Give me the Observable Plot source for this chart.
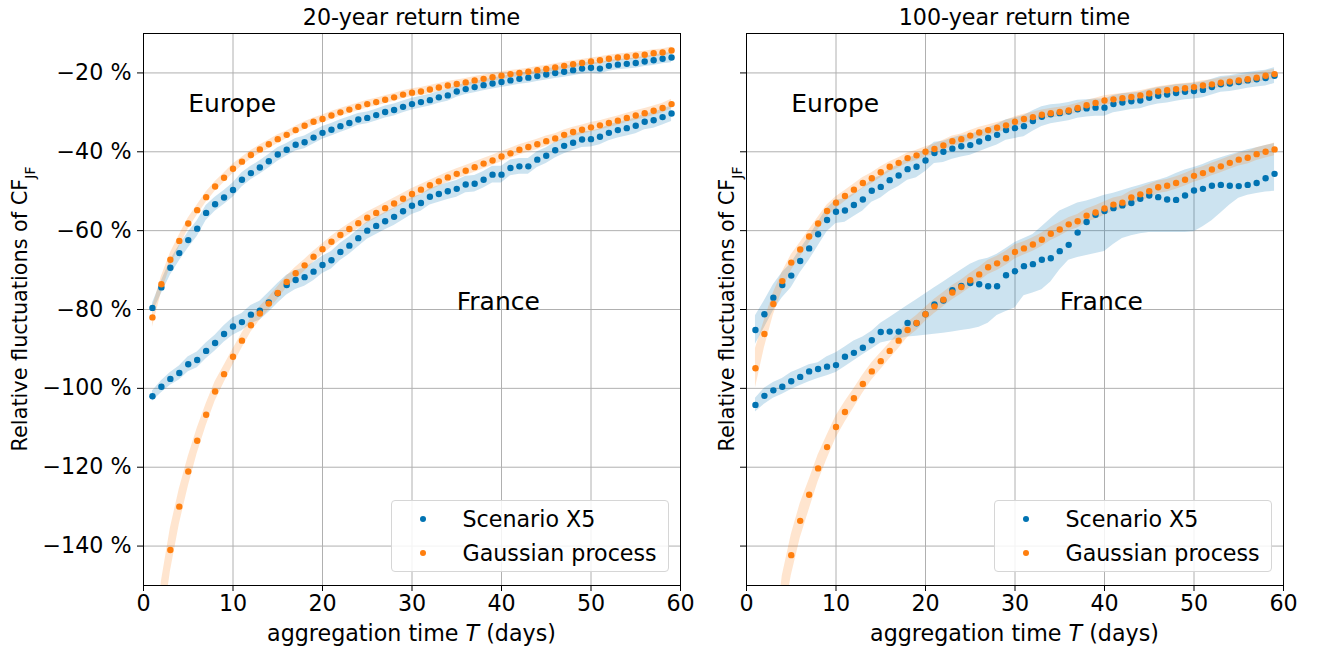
<!DOCTYPE html>
<html><head><meta charset="utf-8">
<script src="https://cdn.jsdelivr.net/npm/d3@7"></script>
<script src="https://cdn.jsdelivr.net/npm/@observablehq/plot@0.6"></script>
<style>
body{margin:0;background:#fff;font-family:"DejaVu Sans",sans-serif;color:#000;}
#wrap{position:relative;width:1317px;height:648px;overflow:hidden;background:#fff;}
.abs{position:absolute;white-space:nowrap;}
.c{transform:translate(-50%,-50%);}
.ttl{font-size:22.2px;}
.xl{font-size:22.2px;}
.leg{border:1px solid #d6d6d6;border-radius:4px;background:rgba(255,255,255,0.85);width:276px;height:70px;}
.leg .dot{position:absolute;width:6px;height:6px;border-radius:50%;left:28px;}
.leg .lt{position:absolute;left:71px;font-size:22.2px;transform:translateY(-50%);}
</style></head>
<body><div id="wrap"></div>
<script>
const days = [1,2,3,4,5,6,7,8,9,10,11,12,13,14,15,16,17,18,19,20,21,22,23,24,25,26,27,28,29,30,31,32,33,34,35,36,37,38,39,40,41,42,43,44,45,46,47,48,49,50,51,52,53,54,55,56,57,58,59];
const xTicks = [0,10,20,30,40,50,60];
const yTicks = [-140,-120,-100,-80,-60,-40,-20];
const seriesNames = ["Scenario X5","Gaussian process"];
const regionLabels = [{x:5,y:-30,t:"Europe"},{x:35,y:-80,t:"France"}];
const panelTitles = ["20-year return time","100-year return time"];
const blue = "#0173b2", orange = "#ff7f0e";

// ---- 20-year return time ----
const eu20_x5 = [-79.6,-74.4,-69.4,-65.7,-62.4,-59.5,-55.5,-53.3,-51.6,-49.7,-47.1,-45.4,-44.0,-42.4,-40.7,-39.5,-38.2,-37.6,-36.4,-35.2,-34.4,-33.5,-32.7,-31.8,-31.4,-30.7,-29.9,-29.4,-28.6,-27.9,-27.4,-26.9,-26.2,-25.7,-24.7,-24.1,-23.6,-23.1,-22.7,-22.3,-21.9,-21.5,-21.2,-20.8,-20.4,-20.0,-19.7,-19.3,-18.9,-18.7,-18.9,-18.2,-17.9,-17.7,-17.5,-17.1,-16.8,-16.4,-16.1];
const eu20_x5_err = [1.2,1.6,1.9,2.0,2.0,2.0,1.9,1.8,1.8,1.8,1.8,1.7,1.7,1.7,1.7,1.6,1.6,1.6,1.6,1.6,1.6,1.6,1.6,1.5,1.5,1.5,1.5,1.5,1.5,1.5,1.5,1.5,1.5,1.5,1.5,1.4,1.4,1.4,1.4,1.4,1.4,1.4,1.4,1.4,1.4,1.4,1.4,1.4,1.4,1.4,1.4,1.4,1.3,1.3,1.3,1.3,1.3,1.3,1.3];
const eu20_gp = [-82.0,-73.6,-67.4,-62.6,-58.2,-54.8,-51.5,-48.8,-46.6,-44.3,-42.5,-40.8,-39.4,-38.1,-36.8,-35.7,-34.5,-33.4,-32.4,-31.7,-30.8,-30.0,-29.3,-28.6,-27.9,-27.4,-26.8,-26.2,-25.5,-25.0,-24.7,-24.2,-23.7,-23.2,-22.8,-22.4,-21.9,-21.5,-21.1,-20.7,-20.3,-20.0,-19.7,-19.3,-19.0,-18.6,-18.2,-17.8,-17.5,-17.1,-16.8,-16.4,-16.1,-15.9,-15.6,-15.4,-15.0,-14.8,-14.3];
const eu20_gp_err = [2.5,2.0,1.7,1.5,1.4,1.3,1.3,1.2,1.2,1.2,1.1,1.1,1.1,1.1,1.1,1.0,1.0,1.0,1.0,1.0,1.0,1.0,1.0,1.0,1.0,1.0,1.0,1.0,1.0,1.0,1.0,1.0,1.0,1.0,1.0,1.0,1.0,1.0,1.0,1.0,0.9,0.9,0.9,0.9,0.9,0.9,0.9,0.9,0.9,0.9,0.9,0.9,0.9,0.9,0.9,0.9,0.9,0.9,0.9];
const fr20_x5 = [-102.0,-99.6,-97.6,-96.1,-93.9,-92.8,-90.5,-88.5,-86.2,-84.3,-83.2,-81.3,-80.3,-78.2,-75.9,-73.8,-72.5,-71.8,-70.4,-68.7,-67.5,-65.4,-63.8,-61.9,-60.0,-58.8,-57.6,-56.5,-55.1,-53.7,-53.0,-51.4,-50.7,-50.0,-49.4,-48.3,-48.1,-47.1,-45.8,-45.8,-44.1,-43.7,-43.7,-42.0,-41.0,-39.6,-38.5,-37.7,-36.9,-36.8,-36.2,-35.2,-34.5,-34.0,-33.4,-32.4,-32.0,-31.2,-30.3];
const fr20_x5_err = [1.3,1.5,1.6,1.8,1.9,2.0,2.0,2.0,2.1,2.2,2.2,2.3,2.4,2.5,2.5,2.5,2.4,2.3,2.3,2.2,2.2,2.2,2.2,2.2,2.2,2.2,2.2,2.2,2.2,2.2,2.1,2.1,2.1,2.1,2.1,2.1,2.1,2.1,2.1,2.1,2.0,2.0,2.0,2.0,2.0,2.0,2.0,2.0,2.0,2.0,2.0,2.0,2.0,2.0,2.0,2.0,2.0,2.0,2.0];
const fr20_gp = [-180,-156,-141.0,-130.0,-121.1,-113.3,-106.7,-100.8,-96.4,-92.0,-87.9,-84.0,-81.0,-78.5,-75.8,-73.0,-70.8,-68.8,-66.6,-64.7,-62.8,-61.1,-59.6,-58.1,-56.7,-55.5,-54.3,-53.1,-51.9,-50.7,-49.6,-48.5,-47.5,-46.5,-45.6,-44.8,-43.9,-43.0,-42.2,-41.2,-40.4,-39.5,-38.8,-38.1,-37.3,-36.6,-35.7,-35.0,-34.4,-33.8,-33.3,-32.7,-32.1,-31.4,-30.8,-30.2,-29.6,-28.9,-27.9];
const fr20_gp_err = [9,7,5.5,4.5,3.8,3.2,2.8,2.5,2.2,2.0,1.9,1.8,1.7,1.6,1.6,1.5,1.5,1.5,1.4,1.4,1.4,1.4,1.4,1.4,1.4,1.4,1.4,1.4,1.4,1.4,1.3,1.3,1.3,1.3,1.3,1.3,1.3,1.3,1.3,1.3,1.3,1.3,1.3,1.3,1.3,1.2,1.2,1.2,1.2,1.2,1.2,1.2,1.2,1.2,1.2,1.2,1.2,1.2,1.2];

// ---- 100-year return time ----
const eu100_x5 = [-85.2,-81.2,-77.0,-73.8,-71.4,-67.7,-64.5,-60.9,-57.3,-55.2,-54.9,-53.5,-52.1,-49.9,-48.9,-47.2,-46.0,-44.4,-43.8,-42.2,-40.3,-40.0,-39.2,-38.6,-38.3,-37.4,-36.5,-35.7,-34.5,-34.0,-33.5,-32.2,-31.1,-30.5,-30.2,-29.8,-29.2,-29.0,-28.8,-28.8,-27.9,-27.5,-27.2,-27.0,-26.3,-25.8,-25.5,-25.1,-24.8,-24.6,-24.3,-23.6,-22.9,-22.7,-22.3,-21.9,-21.6,-21.3,-20.7];
const eu100_x5_err = [3.6,3.4,3.3,3.2,3.1,3.0,3.0,3.0,3.0,3.0,3.0,2.9,2.9,2.9,2.8,2.8,2.8,2.8,2.8,2.8,2.7,2.7,2.7,2.7,2.6,2.6,2.6,2.6,2.6,2.6,2.7,2.6,2.5,2.4,2.3,2.3,2.3,2.2,2.2,2.2,2.2,2.2,2.1,2.1,2.1,2.1,2.1,2.1,2.0,2.0,2.0,2.0,2.0,2.0,2.0,2.0,2.0,2.0,2.0];
const eu100_gp = [-94.9,-86.2,-78.6,-72.8,-68.1,-64.8,-61.5,-58.2,-55.0,-52.9,-51.2,-49.6,-47.9,-46.7,-45.2,-43.8,-42.8,-41.6,-40.9,-40.0,-39.3,-38.4,-37.3,-36.8,-35.9,-35.1,-34.5,-33.9,-33.3,-32.4,-31.7,-31.2,-30.6,-30.2,-29.9,-29.5,-28.9,-28.2,-27.6,-27.0,-26.7,-26.4,-26.1,-25.7,-25.2,-24.7,-24.4,-24.1,-23.9,-23.6,-23.2,-22.9,-22.5,-22.2,-21.9,-21.6,-21.2,-20.7,-20.3];
const eu100_gp_err = [5,3.5,2.8,2.3,2.0,1.8,1.7,1.6,1.5,1.5,1.4,1.4,1.4,1.4,1.4,1.3,1.3,1.3,1.3,1.3,1.3,1.3,1.3,1.3,1.3,1.3,1.3,1.3,1.3,1.3,1.2,1.2,1.2,1.2,1.2,1.2,1.2,1.2,1.2,1.2,1.2,1.2,1.2,1.2,1.2,1.2,1.2,1.2,1.2,1.2,1.2,1.2,1.2,1.2,1.2,1.2,1.2,1.2,1.2];
const fr100_x5 = [-104.2,-101.9,-100.5,-99.6,-98.2,-97.1,-95.7,-95.1,-94.5,-94.1,-92.0,-91.0,-89.7,-87.8,-85.7,-85.6,-85.6,-83.4,-83.5,-81.2,-78.7,-77.7,-75.1,-74.0,-73.3,-73.6,-74.1,-74.1,-71.3,-70.3,-69.0,-68.5,-67.4,-67.0,-65.2,-63.6,-60.5,-57.8,-56.0,-55.0,-54.3,-53.6,-53.0,-51.9,-51.1,-51.5,-52.1,-52.2,-51.1,-49.8,-49.4,-48.6,-48.4,-48.6,-48.7,-48.4,-47.9,-46.7,-45.6];
const fr100_x5_hi = [-102.5,-100,-98.5,-97.5,-96,-95,-94,-93.5,-92,-91,-89.5,-88,-87,-85.5,-83.5,-82,-80.5,-79,-77.5,-76,-74.5,-73,-71.5,-70,-68.5,-67.5,-67,-66,-64.5,-63,-62,-61,-59,-57,-55,-54,-53,-52.5,-51.8,-51,-50.5,-49.8,-49.1,-48.5,-47.8,-47.2,-46.5,-45.5,-44.6,-44,-43.2,-42.3,-41.5,-40.8,-40.2,-39.5,-39,-38.4,-37.9];
const fr100_x5_lo = [-106,-104,-102.5,-101.5,-100.3,-99.3,-98.3,-97.5,-96.8,-96,-94.5,-93,-91.5,-90,-88.5,-88,-87.5,-87,-86.8,-86.5,-86.3,-86,-85.7,-85.3,-85,-84.5,-83.5,-81.5,-80.5,-79.6,-76.5,-75.8,-75,-73,-70,-67.5,-66.8,-66.3,-65.8,-65.3,-63.5,-62,-61.3,-60.8,-60.5,-60.5,-60.5,-60.5,-60.5,-60.3,-59,-57.5,-55.5,-53.5,-51.8,-51,-50.6,-50.2,-50];
const fr100_gp = [-230,-200,-175,-154,-142.3,-133.6,-127.0,-120.3,-114.9,-109.8,-106.0,-102.5,-98.9,-95.7,-93.1,-90.5,-87.9,-85.2,-83.4,-81.2,-79.2,-77.5,-75.7,-74.3,-72.6,-71.1,-69.3,-68.3,-67.0,-65.4,-64.5,-63.5,-62.3,-60.8,-59.7,-58.4,-57.6,-56.2,-55.4,-54.4,-53.4,-52.9,-51.6,-50.8,-50.0,-49.0,-48.6,-47.9,-47.1,-46.1,-45.4,-44.5,-43.7,-42.8,-42.0,-41.5,-40.6,-40.0,-39.4];
const fr100_gp_err = [14,11,8.5,6.5,5.2,4.4,3.8,3.4,3.0,2.8,2.6,2.4,2.3,2.2,2.1,2.0,2.0,1.9,1.9,1.8,1.8,1.8,1.8,1.8,1.8,1.8,1.8,1.8,1.8,1.8,1.7,1.7,1.7,1.7,1.7,1.7,1.7,1.7,1.7,1.7,1.7,1.7,1.7,1.7,1.7,1.6,1.6,1.6,1.6,1.6,1.6,1.6,1.6,1.6,1.6,1.6,1.6,1.6,1.6];

function rowsErr(vals, err){ return days.map((d,i)=>({x:d, y:vals[i], lo:vals[i]-err[i], hi:vals[i]+err[i]})); }
function rowsLoHi(vals, lo, hi){ return days.map((d,i)=>({x:d, y:vals[i], lo:lo[i], hi:hi[i]})); }

const panels = [
  {title: panelTitles[0], showY: true, left: 0,
   x5: [rowsErr(eu20_x5, eu20_x5_err), rowsErr(fr20_x5, fr20_x5_err)],
   gp: [rowsErr(eu20_gp, eu20_gp_err), rowsErr(fr20_gp, fr20_gp_err)]},
  {title: panelTitles[1], showY: false, left: 603,
   x5: [rowsErr(eu100_x5, eu100_x5_err), rowsLoHi(fr100_x5, fr100_x5_lo, fr100_x5_hi)],
   gp: [rowsErr(eu100_gp, eu100_gp_err), rowsErr(fr100_gp, fr100_gp_err)]}
];

const wrap = document.getElementById("wrap");
const fmt = d => "\u2212" + Math.abs(d) + " %";

panels.forEach(p => {
  const marks = [
    Plot.gridX({ticks: xTicks, stroke: "#b0b0b0", strokeOpacity: 1, strokeWidth: 1}),
    Plot.gridY({ticks: yTicks, stroke: "#b0b0b0", strokeOpacity: 1, strokeWidth: 1}),
  ];
  p.x5.forEach(r => marks.push(Plot.areaY(r, {x: "x", y1: "lo", y2: "hi", fill: blue, fillOpacity: 0.2, clip: true})));
  p.gp.forEach(r => marks.push(Plot.areaY(r, {x: "x", y1: "lo", y2: "hi", fill: orange, fillOpacity: 0.2, clip: true})));
  p.x5.forEach(r => marks.push(Plot.dot(r, {x: "x", y: "y", r: 3.2, fill: blue, stroke: null, clip: true})));
  p.gp.forEach(r => marks.push(Plot.dot(r, {x: "x", y: "y", r: 3.2, fill: orange, stroke: null, clip: true})));
  marks.push(Plot.text(regionLabels, {x: "x", y: "y", text: "t", textAnchor: "start", lineAnchor: "bottom", fontSize: 25, fill: "black"}));
  marks.push(Plot.frame({stroke: "black", strokeWidth: 1}));
  marks.push(Plot.axisX({ticks: xTicks, tickSize: 6, tickPadding: 4, label: null, tickFormat: d => String(d)}));
  marks.push(Plot.axisY({ticks: yTicks, tickSize: 6, tickPadding: 6, label: null, tickFormat: p.showY ? fmt : () => ""}));

  const svg = Plot.plot({
    width: 690, height: 648,
    marginTop: 33, marginBottom: 63, marginLeft: 143, marginRight: 10,
    x: {domain: [0, 60]},
    y: {domain: [-150, -10]},
    style: {fontFamily: "DejaVu Sans", fontSize: "22.2px", background: "transparent", color: "black", overflow: "visible"},
    marks
  });
  svg.style.position = "absolute";
  svg.style.left = p.left + "px";
  svg.style.top = "0px";
  svg.style.maxWidth = "none";
  wrap.appendChild(svg);

  // y-axis label with subscript, drawn as SVG text
  const ylx = p.showY ? 20 : 124;
  const yt = d3.select(svg).append("text")
    .attr("transform", `translate(${ylx},309) rotate(-90)`)
    .attr("text-anchor", "middle")
    .attr("dy", "0.35em")
    .attr("font-size", 20.8)
    .attr("fill", "black");
  yt.append("tspan").text("Relative fluctuations of CF");
  yt.append("tspan").attr("baseline-shift", "sub").attr("font-size", 14).text("JF");

  const cx = p.left + 143 + 537/2;
  const t = document.createElement("div");
  t.className = "abs c ttl"; t.style.left = cx + "px"; t.style.top = "17px"; t.textContent = p.title;
  wrap.appendChild(t);
  const xl = document.createElement("div");
  xl.className = "abs c xl"; xl.style.left = cx + "px"; xl.style.top = "633px";
  xl.innerHTML = "aggregation time <i>T</i> (days)";
  wrap.appendChild(xl);

  const leg = document.createElement("div");
  leg.className = "abs leg"; leg.style.left = (p.left + 390.5) + "px"; leg.style.top = "500px";
  [blue, orange].forEach((col, i) => {
    const d = document.createElement("div");
    d.className = "dot"; d.style.background = col; d.style.top = (14.5 + i*34) + "px";
    leg.appendChild(d);
    const s = document.createElement("div");
    s.className = "lt"; s.style.top = (17.5 + i*34) + "px"; s.textContent = seriesNames[i];
    leg.appendChild(s);
  });
  wrap.appendChild(leg);
});
</script>
</body></html>
